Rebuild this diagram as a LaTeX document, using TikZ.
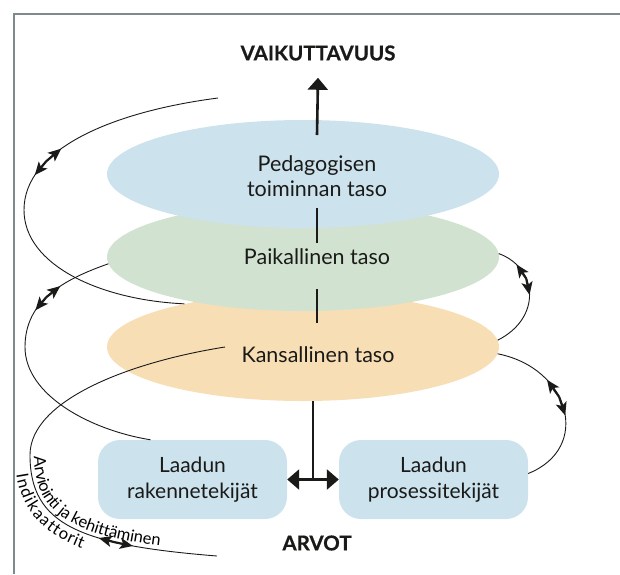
\documentclass[tikz,border=0pt]{standalone}
\usepackage{fontspec}
\setmainfont{Lato}
\usetikzlibrary{arrows.meta,shapes.geometric,calc,decorations.text}
\definecolor{ink}{HTML}{1A1A18}
\definecolor{skyfill}{HTML}{CCE2EC}
\definecolor{leaffill}{HTML}{D1E3D0}
\definecolor{sandfill}{HTML}{F7DEB5}
\definecolor{framegray}{HTML}{7E8B8C}
\newcommand{\curvefont}{\fontsize{16.5}{19}\selectfont}

\begin{document}
\begin{tikzpicture}[x=1pt, y=-1pt,
  level/.style={ellipse, minimum width=392pt, minimum height=108pt, inner sep=0pt},
  lbl/.style={font=\fontsize{21.5}{25}\selectfont, text=ink, align=center, inner sep=0pt},
  head/.style={font=\fontsize{20.5}{24}\selectfont\bfseries\addfontfeature{FakeBold=0.6},
    text=ink, inner sep=0pt},
  factor/.style={rounded corners=22pt, fill=skyfill, minimum width=189pt, minimum height=79pt,
    align=center, font=\fontsize{21}{26}\selectfont, text=ink},
  axis/.style={draw=ink, line width=2.6pt},
  bigtip/.style={-{Triangle[length=12pt,width=20pt]}},
  loop/.style={draw=ink, line width=0.9pt},
  halftip/.style={draw=ink, line width=2.2pt, -{Stealth[length=13pt,width=11pt,inset=3pt]}}]
  \useasboundingbox (0,0) rectangle (620,574);
  \draw[framegray, line width=1.4pt] (14,574) -- (14,14) -- (620,14);

  % the three levels
  \node[level, fill=sandfill] (kans) at (303,347) {};
  \node[level, fill=leaffill] (paik) at (303,257) {};
  \node[level, fill=skyfill] (ped) at (303,174) {};
  \node[lbl] (pedtxt) at (317,176) {Pedagogisen\\toiminnan taso};
  \node[lbl] (paiktxt) at (317,257) {Paikallinen taso};
  \node[lbl] (kanstxt) at (318,355) {Kansallinen taso};

  \node[head] (vaik) at (318,53) {VAIKUTTAVUUS};
  \node[head] (arvot) at (317,543) {ARVOT};

  \node[factor] (rak) at (192.5,479.5) {Laadun\\rakennetekijät};
  \node[factor] (pros) at (433.5,479.5) {Laadun\\prosessitekijät};

  % axis
  \coordinate (ax1) at (317,135);
  \coordinate (ax2) at (317,208);
  \coordinate (ax3) at (317,243);
  \coordinate (ax4) at (317,289);
  \coordinate (ax5) at (317,323);
  \coordinate (mid) at ($(rak.east)!0.5!(pros.west)$);
  \draw[axis, bigtip] (ax1) -- ([yshift=-17pt]vaik.south);
  \draw[axis] (ax2) -- (ax3);
  \draw[axis] (ax4) -- (ax5);
  \draw[axis] (mid) -- (mid |- kans.south);
  \draw[axis, {Triangle[length=12pt,width=20pt]}-{Triangle[length=12pt,width=20pt]}] (rak.east) -- (pros.west);

  % loops
  \coordinate (c1s) at (218,98);
  \coordinate (c1k) at (24,210);
  \draw[loop] (c1s) .. controls (110,112) and (24,150) .. (c1k)
    coordinate[pos=0.6] (d1a) coordinate[pos=0.695] (d1m) coordinate[pos=0.79] (d1b);
  \draw[loop] (c1k) .. controls (24,265) and (100,300) .. (kans.160);
  \draw[halftip] (d1m) -- (d1a);
  \draw[halftip] (d1m) -- (d1b);

  \coordinate (c2k) at (25,347);
  \draw[loop] (paik.182) .. controls (65,279) and (25,300) .. (c2k)
    coordinate[pos=0.4] (d2a) coordinate[pos=0.545] (d2m) coordinate[pos=0.69] (d2b);
  \draw[loop] (c2k) .. controls (25,395) and (90,430) .. ([xshift=-42pt]rak.north);
  \draw[halftip] (d2m) -- (d2a);
  \draw[halftip] (d2m) -- (d2b);

  \coordinate (c3s) at ([xshift=-78pt]kans.center);
  \coordinate (c3m) at (30,455);
  \coordinate (c3e) at (217,556);
  \draw[loop] (c3s) .. controls (130,362) and (30,400) .. (c3m);
  \draw[loop] (c3m) .. controls (30,525) and (80,545) .. (c3e)
    coordinate[pos=0.63] (d3a) coordinate[pos=0.695] (d3m) coordinate[pos=0.76] (d3b);
  \draw[halftip] (d3m) -- (d3a);
  \draw[halftip] (d3m) -- (d3b);
  \path[decorate, decoration={text along path, raise=4pt, text align={left indent=2pt},
    text={|\curvefont|Arviointi ja kehittäminen}}]
    (c3m) .. controls (30,525) and (80,545) .. (c3e);
  \path[decorate, decoration={text along path, raise=-15pt, text align={left indent=17pt},
    text={|\curvefont|Indikaattorit}}]
    (c3m) .. controls (30,525) and (80,545) .. (c3e);

  \draw[loop] (paik.1) .. controls (538,268) and (542,318) .. (kans.2)
    coordinate[pos=0.18] (d4a) coordinate[pos=0.345] (d4m) coordinate[pos=0.51] (d4b);
  \draw[halftip] (d4m) -- (d4a);
  \draw[halftip] (d4m) -- (d4b);

  \draw[loop] (kans.-2) .. controls (570,368) and (592,448) .. ([yshift=6pt]pros.east)
    coordinate[pos=0.29] (d5a) coordinate[pos=0.415] (d5m) coordinate[pos=0.54] (d5b);
  \draw[halftip] (d5m) -- (d5a);
  \draw[halftip] (d5m) -- (d5b);
\end{tikzpicture}
\end{document}
